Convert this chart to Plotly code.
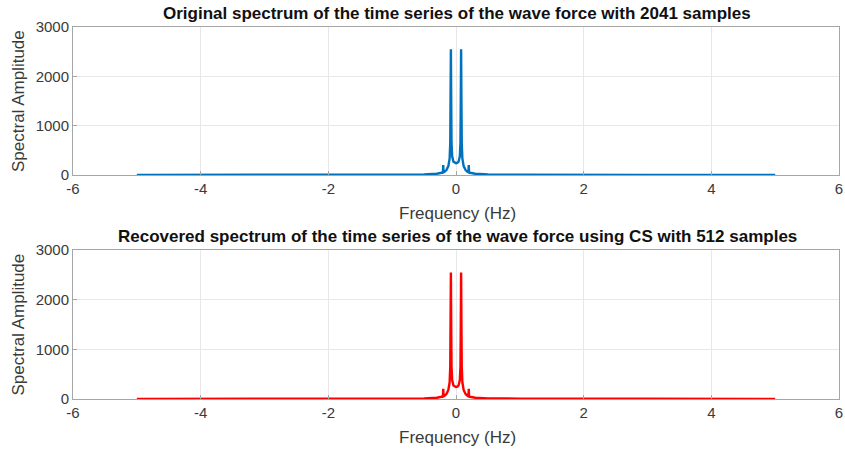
import plotly.graph_objects as go

# Spectrum sample points (Hz, amplitude)
freq_orig = [-5.0, -3.0, -1.0, -0.5, -0.3, -0.22, -0.205, -0.2, -0.195, -0.18, -0.15, -0.12, -0.1,
             -0.09, -0.085, -0.08, -0.075, -0.07, -0.06, -0.04, -0.02, 0.0,
             0.02, 0.04, 0.06, 0.07, 0.075, 0.08, 0.085, 0.09, 0.1, 0.12, 0.15, 0.18,
             0.195, 0.2, 0.205, 0.22, 0.3, 0.5, 1.0, 3.0, 5.0]
amp_orig = [2, 3, 6, 12, 25, 45, 50, 200, 55, 65, 100, 180, 330,
            650, 1500, 2550, 1500, 650, 380, 270, 245, 240,
            245, 270, 380, 650, 1500, 2550, 1500, 650, 330, 180, 100, 65,
            55, 200, 50, 45, 25, 12, 6, 3, 2]

freq_rec = freq_orig
amp_rec = [3, 4, 7, 13, 26, 46, 51, 205, 56, 66, 102, 182, 332,
           655, 1510, 2545, 1510, 655, 382, 272, 247, 242,
           247, 272, 382, 655, 1510, 2545, 1510, 655, 332, 182, 102, 66,
           56, 205, 51, 46, 26, 13, 7, 4, 3]

x_ticks = [-6, -4, -2, 0, 2, 4, 6]
x_tick_text = ["-6", "-4", "-2", "0", "2", "4", "6"]
y_ticks = [0, 1000, 2000, 3000]
y_tick_text = ["0", "1000", "2000", "3000"]

title_top = "Original spectrum of the time series of the wave force with 2041 samples"
title_bot = "Recovered spectrum of the time series of the wave force using CS with 512 samples"
x_label = "Frequency (Hz)"
y_label = "Spectral Amplitude"

fig = go.Figure()
fig.add_trace(go.Scatter(x=freq_orig, y=amp_orig, mode="lines",
                         line=dict(color="#0072BD", width=2.4), xaxis="x", yaxis="y"))
fig.add_trace(go.Scatter(x=freq_rec, y=amp_rec, mode="lines",
                         line=dict(color="#FF0000", width=2.4), xaxis="x2", yaxis="y2"))

FAM = "Liberation Sans, Arial, sans-serif"
tick_font = dict(family=FAM, size=15, color="#3a3a3a")
lab_font = dict(family=FAM, size=17, color="#3a3a3a")
ttl_font = dict(family=FAM, size=17, color="#111111")

ax_common = dict(showline=True, linecolor="#a6a6a6", linewidth=1, mirror=True,
                 showgrid=True, gridcolor="#e8e8e8", zeroline=False,
                 ticks="inside", ticklen=4, tickcolor="#a6a6a6",
                 tickfont=tick_font, automargin=False)

L, R = 73, 839
xd = [L / 845, R / 845]
top_dom = [1 - 175 / 450, 1 - 27 / 450]
bot_dom = [1 - 399 / 450, 1 - 250 / 450]

fig.update_layout(
    width=845, height=450, margin=dict(l=0, r=0, t=0, b=0),
    paper_bgcolor="white", plot_bgcolor="white", showlegend=False,
    xaxis=dict(domain=xd, anchor="y", range=[-6, 6], tickvals=x_ticks, ticktext=x_tick_text, **ax_common),
    yaxis=dict(domain=top_dom, anchor="x", range=[0, 3000], tickvals=y_ticks, ticktext=y_tick_text, **ax_common),
    xaxis2=dict(domain=xd, anchor="y2", range=[-6, 6], tickvals=x_ticks, ticktext=x_tick_text, **ax_common),
    yaxis2=dict(domain=bot_dom, anchor="x2", range=[0, 3000], tickvals=y_ticks, ticktext=y_tick_text, **ax_common),
)

xc = 457 / 845
ann = []
for title, ty, dom, lx_y in [(title_top, 14, top_dom, 213), (title_bot, 237, bot_dom, 437)]:
    ann.append(dict(text="<b>" + title + "</b>", x=xc, y=1 - ty / 450, xref="paper", yref="paper",
                    showarrow=False, font=ttl_font, xanchor="center", yanchor="middle"))
    ann.append(dict(text=x_label, x=xc, y=1 - lx_y / 450, xref="paper", yref="paper",
                    showarrow=False, font=lab_font, xanchor="center", yanchor="middle"))
    ann.append(dict(text=y_label, x=18 / 845, y=(dom[0] + dom[1]) / 2, xref="paper", yref="paper",
                    showarrow=False, font=lab_font, textangle=-90, xanchor="center", yanchor="middle"))
fig.update_layout(annotations=ann)

fig.write_html("out.html")
